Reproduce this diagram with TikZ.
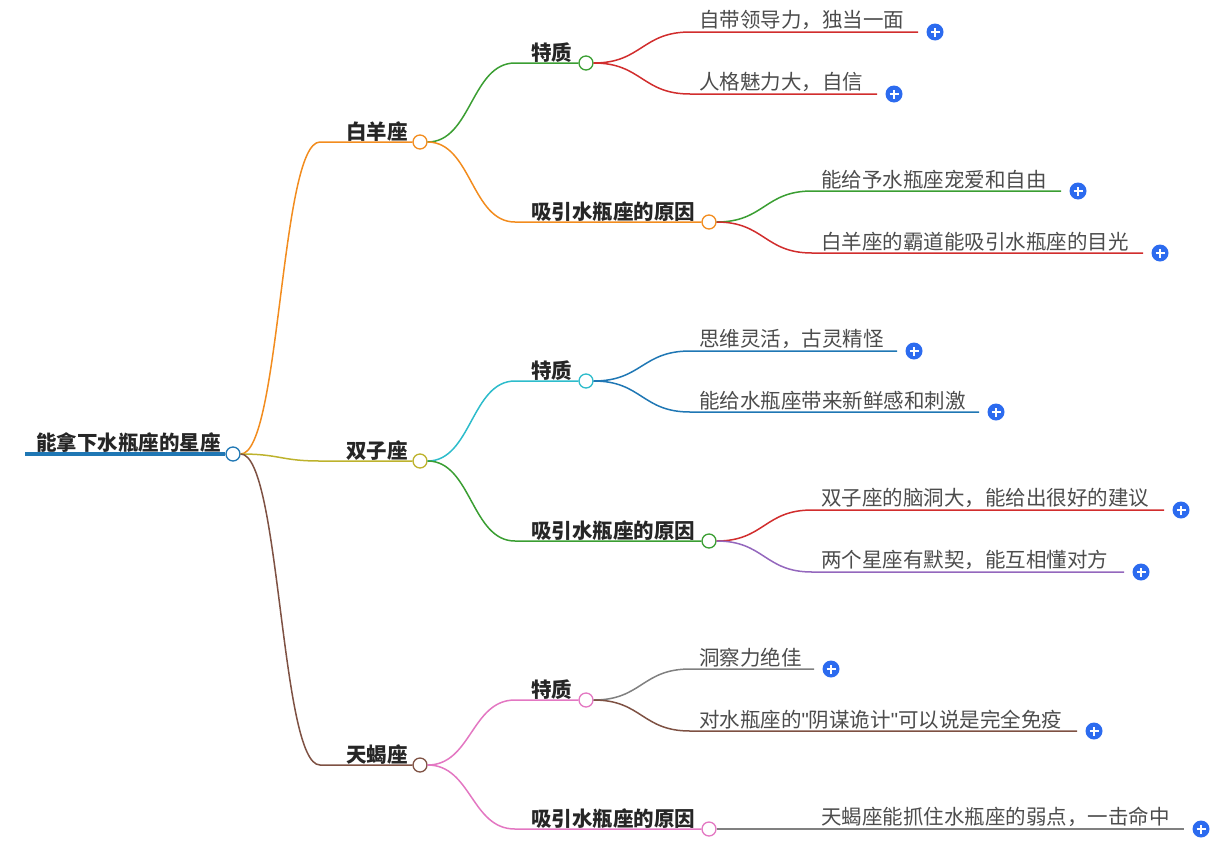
\documentclass[tikz,border=0pt]{standalone}
\usepackage{fontspec}
\setmainfont{Noto Sans CJK SC}
\newfontfamily\qfont{Liberation Sans}
\usetikzlibrary{calc}
\definecolor{corange}{HTML}{F28C1E}
\definecolor{colive}{HTML}{BDB22C}
\definecolor{cbrown}{HTML}{7E5143}
\definecolor{cgreen}{HTML}{3A9E32}
\definecolor{ccyan}{HTML}{2DBCCB}
\definecolor{cpink}{HTML}{E377C2}
\definecolor{cblue}{HTML}{1F77B4}
\definecolor{cred}{HTML}{D12D2D}
\definecolor{cpurple}{HTML}{9467BD}
\definecolor{cgray}{HTML}{808080}
\definecolor{cplus}{HTML}{2C6BEF}
\tikzset{
 dot/.style={circle,draw,fill=white,line width=1.3pt,minimum size=14pt,inner sep=0pt},
 lbl/.style={anchor=south west,inner sep=1pt,font=\fontsize{20.5}{23}\selectfont\bfseries,text=black!85},
 leaf/.style={anchor=south west,inner sep=1pt,font=\fontsize{20.5}{23}\selectfont,text=black!70},
 conn/.style={line width=1.5pt},
 plus/.style={circle,fill=cplus,minimum size=17pt,inner sep=0pt,
   path picture={\draw[white,line width=1.6pt] ($(path picture bounding box.center)+(-4.5pt,0)$)--($(path picture bounding box.center)+(4.5pt,0)$) ($(path picture bounding box.center)+(0,-4.5pt)$)--($(path picture bounding box.center)+(0,4.5pt)$);}}
}
\newcommand\mylink[4]{% from, curve end, line end, color
 \draw[conn,#4] let \p1=(#1.east), \p2=(#2) in (\p1) .. controls ({(\x1+\x2)/2},\y1) and ({(\x1+\x2)/2},\y2) .. (#2) -- (#3);}
\newcommand\myleaf[8]{% name, from, xstart, y, xend, color, text
 \coordinate (#1s) at (#3,#4); \coordinate (#1e) at (#5,#4);
 \mylink{#2}{#1s}{#1e}{#6}
 \node[leaf] at (#3+8,#4-1) {#7};
 \node[plus] (#1p) at (#5+17,#4) {};}
\begin{document}
\begin{tikzpicture}[x=1pt,y=-1pt]
\useasboundingbox (0,0) rectangle (1228,849);
% root
\node[dot,draw=cblue] (root) at (233,454) {};
\coordinate (rootl) at (25,454);
\draw[cblue,line width=4pt] (rootl) -- (root.west);
\node[lbl,inner sep=2pt] at (34,455) {能拿下水瓶座的星座};
% level 1
\node[dot,draw=corange] (a) at (420,142) {};
\node[dot,draw=colive] (b) at (420,461) {};
\node[dot,draw=cbrown] (c) at (420,765) {};
\coordinate (as) at (320,142); \coordinate (bs) at (320,461); \coordinate (cs) at (320,765);
\mylink{root}{as}{a.west}{corange}
\mylink{root}{bs}{b.west}{colive}
\mylink{root}{cs}{c.west}{cbrown}
\node[lbl] at (345,143) {白羊座};
\node[lbl] at (345,462) {双子座};
\node[lbl] at (345,766) {天蝎座};
% level 2
\node[dot,draw=cgreen] (a1) at (586,63) {};
\node[dot,draw=corange] (a2) at (709,222) {};
\node[dot,draw=ccyan] (b1) at (586,381) {};
\node[dot,draw=cgreen] (b2) at (709,541) {};
\node[dot,draw=cpink] (c1) at (586,700) {};
\node[dot,draw=cpink] (c2) at (709,829) {};
\coordinate (a1s) at (515,63); \coordinate (a2s) at (515,222);
\coordinate (b1s) at (515,381); \coordinate (b2s) at (515,541);
\coordinate (c1s) at (515,700); \coordinate (c2s) at (515,829);
\mylink{a}{a1s}{a1.west}{cgreen}
\mylink{a}{a2s}{a2.west}{corange}
\mylink{b}{b1s}{b1.west}{ccyan}
\mylink{b}{b2s}{b2.west}{cgreen}
\mylink{c}{c1s}{c1.west}{cpink}
\mylink{c}{c2s}{c2.west}{cpink}
\node[lbl] at (530,64) {特质};
\node[lbl] at (530,223) {吸引水瓶座的原因};
\node[lbl] at (530,382) {特质};
\node[lbl] at (530,542) {吸引水瓶座的原因};
\node[lbl] at (530,701) {特质};
\node[lbl] at (530,830) {吸引水瓶座的原因};
% leaves
\myleaf{l1}{a1}{690}{32}{918}{cred}{自带领导力，独当一面}{}
\myleaf{l2}{a1}{690}{94}{877}{cred}{人格魅力大，自信}{}
\myleaf{l3}{a2}{812}{191}{1061}{cgreen}{能给予水瓶座宠爱和自由}{}
\myleaf{l4}{a2}{812}{253}{1143}{cred}{白羊座的霸道能吸引水瓶座的目光}{}
\myleaf{l5}{b1}{690}{351}{897}{cblue}{思维灵活，古灵精怪}{}
\myleaf{l6}{b1}{690}{412}{979}{cblue}{能给水瓶座带来新鲜感和刺激}{}
\myleaf{l7}{b2}{812}{510}{1164}{cred}{双子座的脑洞大，能给出很好的建议}{}
\myleaf{l8}{b2}{812}{572}{1124}{cpurple}{两个星座有默契，能互相懂对方}{}
\myleaf{l9}{c1}{690}{669}{814}{cgray}{洞察力绝佳}{}
\myleaf{l10}{c1}{690}{731}{1077}{cbrown}{对水瓶座的{\qfont"}阴谋诡计{\qfont"}可以说是完全免疫}{}
\myleaf{l11}{c2}{812}{829}{1184}{cgray}{天蝎座能抓住水瓶座的弱点，一击命中}{}
\end{tikzpicture}
\end{document}
